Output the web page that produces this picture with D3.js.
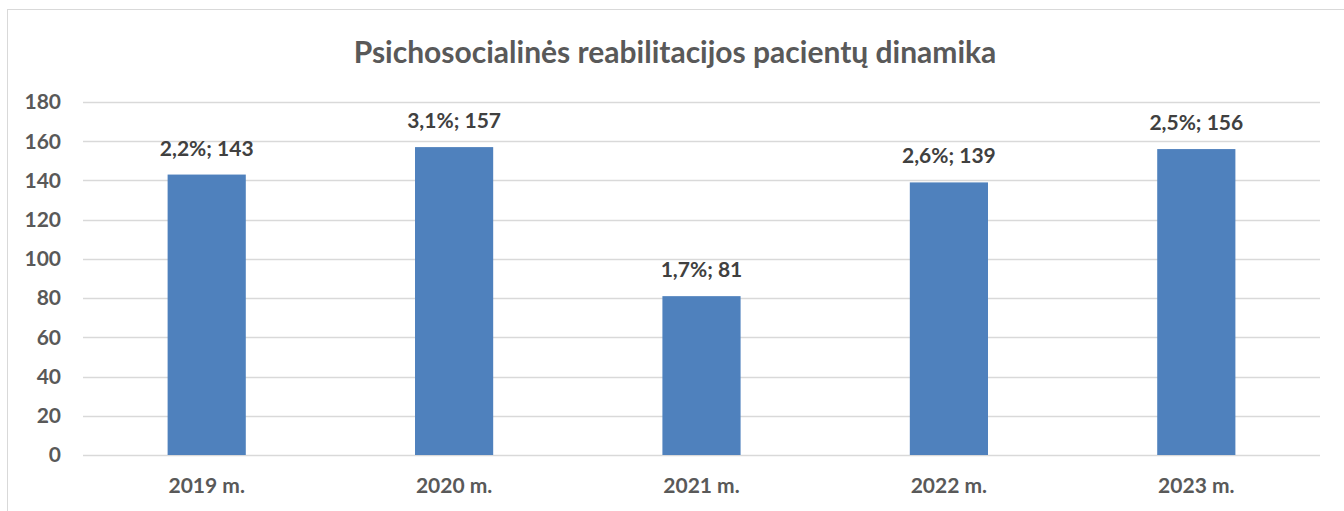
<!DOCTYPE html>
<html>
<head>
<meta charset="utf-8">
<script src="https://cdn.jsdelivr.net/npm/d3@7"></script>
<style>
  body { margin: 0; background: #fff; }
  svg text { font-family: Lato, "Open Sans", sans-serif; font-weight: bold; }
</style>
</head>
<body>
<svg id="chart" width="1344" height="511"></svg>
<script>
// chart data
var categories = ["2019 m.", "2020 m.", "2021 m.", "2022 m.", "2023 m."];
var patients = [143, 157, 81, 139, 156];
var shares = ["2,2%", "3,1%", "1,7%", "2,6%", "2,5%"];
var yTicks = [0, 20, 40, 60, 80, 100, 120, 140, 160, 180];
var title = "Psichosocialinės reabilitacijos pacientų dinamika";

var svg = d3.select("#chart");
var margin = {left: 83, right: 24, top: 102, bottom: 56};
var W = 1344, H = 511;

// outer frame (right/bottom run off the picture)
svg.append("rect")
	.attr("x", 7.5).attr("y", 9.5)
	.attr("width", 1400).attr("height", 600)
	.attr("fill", "#fff")
	.attr("stroke", "#d9d9d9");

var x = d3.scaleBand()
	.domain(categories)
	.range([margin.left, W - margin.right])
	.padding(0);

var y = d3.scaleLinear()
	.domain([0, 180])
	.range([H - margin.bottom, margin.top]);

// gridlines
svg.append("g").selectAll("line")
	.data(yTicks)
	.enter().append("line")
	.attr("x1", margin.left).attr("x2", W - margin.right)
	.attr("y1", function(d) { return Math.round(y(d)) + 0.5; })
	.attr("y2", function(d) { return Math.round(y(d)) + 0.5; })
	.attr("stroke", "#d9d9d9")
	.attr("stroke-width", 1.3);

// y tick labels
svg.append("g").selectAll("text")
	.data(yTicks)
	.enter().append("text")
	.attr("x", 61)
	.attr("y", function(d) { return y(d); })
	.attr("dy", "0.35em")
	.attr("text-anchor", "end")
	.attr("fill", "#595959")
	.attr("font-size", 21)
	.text(function(d) { return d; });

// bars
var barW = x.bandwidth() * 0.316;
svg.append("g").selectAll("rect")
	.data(patients)
	.enter().append("rect")
	.attr("x", function(d, i) { return x(categories[i]) + (x.bandwidth() - barW) / 2; })
	.attr("y", function(d) { return y(d); })
	.attr("width", barW)
	.attr("height", function(d) { return y(0) - y(d); })
	.attr("fill", "#4f81bd");

// data labels
svg.append("g").selectAll("text")
	.data(patients)
	.enter().append("text")
	.attr("x", function(d, i) { return x(categories[i]) + x.bandwidth() / 2; })
	.attr("y", function(d) { return y(d) - 19; })
	.attr("text-anchor", "middle")
	.attr("fill", "#404040")
	.attr("font-size", 21)
	.text(function(d, i) { return shares[i] + "; " + d; });

// category labels
svg.append("g").selectAll("text")
	.data(categories)
	.enter().append("text")
	.attr("x", function(d) { return x(d) + x.bandwidth() / 2; })
	.attr("y", 493)
	.attr("text-anchor", "middle")
	.attr("fill", "#595959")
	.attr("font-size", 21)
	.text(function(d) { return d; });

// title
svg.append("text")
	.attr("x", 675)
	.attr("y", 63)
	.attr("text-anchor", "middle")
	.attr("fill", "#595959")
	.attr("font-size", 30)
	.text(title);
</script>
</body>
</html>
